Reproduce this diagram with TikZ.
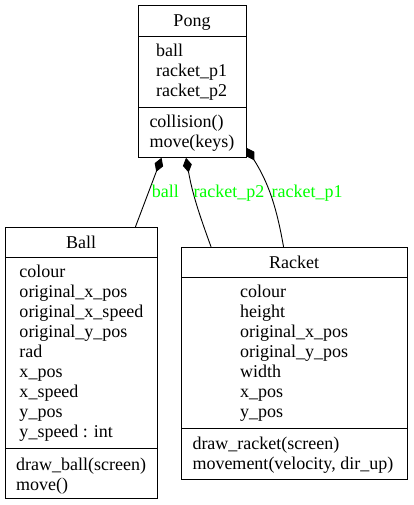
\documentclass[tikz,border=0pt]{standalone}
\usepackage{fontspec}
\setmainfont{Liberation Serif}
\usepackage{tikz}
\usetikzlibrary{calc,fit,arrows.meta}
\definecolor{lblgreen}{RGB}{0,255,0}
\tikzset{
  part/.style={draw,line width=0.9pt,inner sep=0pt},
  txt/.style={anchor=base west,inner sep=0pt},
  ttl/.style={anchor=base,inner sep=0pt},
  lbl/.style={anchor=base west,inner sep=0pt,text=lblgreen},
  comp/.style={line width=0.9pt,{Diamond[length=15pt,width=9pt]}-}
}
\begin{document}
\begin{tikzpicture}[x=1pt,y=1pt,font=\fontsize{18}{20}\selectfont]
                      \useasboundingbox (0,0) rectangle (413,-505);
                      % Pong
                      \node[part,fit={(138,-5.5) (246,-36.7)}](pongT){};
                      \node[part,fit={(138,-36.7) (246,-107.3)}](pongA){};
                      \node[part,fit={(138,-107.3) (246,-157.3)}](pongM){};
                      \node[ttl](pong)at(192,-26.7){Pong};
                      \node[txt](pa1)at(156,-56.7){ball};
                      \node[txt](pa2)at(156,-76.7){racket\_p1};
                      \node[txt](pa3)at(156,-96.7){racket\_p2};
                      \node[txt](pm1)at(149.3,-128){collision()};
                      \node[txt](pm2)at(149.3,-148){move(keys)};
                      % Ball
                      \node[part,fit={(5,-227.3) (157,-257.7)}](ballT){};
                      \node[part,fit={(5,-257.7) (157,-448.7)}](ballA){};
                      \node[part,fit={(5,-448.7) (157,-498.7)}](ballM){};
                      \node[ttl](ball)at(81,-248.3){Ball};
                      \node[txt](ba1)at(19.3,-277.3){colour};
                      \node[txt](ba2)at(19.3,-297.3){original\_x\_pos};
                      \node[txt](ba3)at(19.3,-317.3){original\_x\_speed};
                      \node[txt](ba4)at(19.3,-337.3){original\_y\_pos};
                      \node[txt](ba5)at(19.3,-357.3){rad};
                      \node[txt](ba6)at(19.3,-377.3){x\_pos};
                      \node[txt](ba7)at(19.3,-397.3){x\_speed};
                      \node[txt](ba8)at(19.3,-417.3){y\_pos};
                      \node[txt](ba9)at(19.3,-437.3){y\_speed : int};
                      \node[txt](bm1)at(16,-470){draw\_ball(screen)};
                      \node[txt](bm2)at(16,-490){move()};
                      % Racket
                      \node[part,fit={(181,-247.3) (407.5,-277.7)}](racketT){};
                      \node[part,fit={(181,-277.7) (407.5,-428.3)}](racketA){};
                      \node[part,fit={(181,-428.3) (407.5,-479.3)}](racketM){};
                      \node[ttl](racket)at(294,-268.3){Racket};
                      \node[txt](ra1)at(240,-297.3){colour};
                      \node[txt](ra2)at(240,-317.3){height};
                      \node[txt](ra3)at(240,-337.3){original\_x\_pos};
                      \node[txt](ra4)at(240,-357.3){original\_y\_pos};
                      \node[txt](ra5)at(240,-377.3){width};
                      \node[txt](ra6)at(240,-397.3){x\_pos};
                      \node[txt](ra7)at(240,-417.3){y\_pos};
                      \node[txt](rm1)at(192.3,-449.3){draw\_racket(screen)};
                      \node[txt](rm2)at(192.3,-469.3){movement(velocity, dir\_up)};
                      % compositions
                      \draw[comp]([xshift=24pt]pongM.south west)--([xshift=-22pt]ballT.north east);
                      \draw[comp]([xshift=48.5pt]pongM.south west) to[out=-80,in=110] ([xshift=30.5pt]racketT.north west);
                      \draw[comp]([yshift=10pt]pongM.south east) to[out=-58,in=100] ([xshift=103pt]racketT.north west);
                      \node[lbl](lball)at(151.7,-197){ball};
                      \node[lbl](lp2)at(193.3,-197){racket\_p2};
                      \node[lbl](lp1)at(271.5,-197){racket\_p1};
                  \end{tikzpicture}
\end{document}
